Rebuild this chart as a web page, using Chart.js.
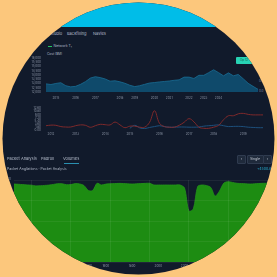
<!DOCTYPE html>
<html>
<head>
<meta charset="utf-8">
<script src="https://cdn.jsdelivr.net/npm/chart.js@4.4.1/dist/chart.umd.min.js"></script>
<style>
  html, body { margin: 0; padding: 0; }
  body { width: 277px; height: 277px; background: #fcc77c; overflow: hidden; position: relative; font-family: Inter, "Noto Sans", sans-serif; }
  #disc { position: absolute; left: 0; top: 0; width: 277px; height: 277px; background: #111a2b; clip-path: circle(136px at 138.5px 138.5px); }
  #band { position: absolute; left: 0; top: 0; width: 277px; height: 27px; background: #00bde8; }
  .t { position: absolute; font-size: 4px; color: #b4bccb; white-space: nowrap; line-height: 1; }
  .btn { position: absolute; background: #1f2a3b; border: 0.5px solid #2f3b4f; border-radius: 1px; font-size: 3.5px; color: #c3c9d3; text-align: center; line-height: 6.5px; height: 6.5px; }
  canvas { position: absolute; }
</style>
</head>
<body>
<div id="disc">
  <div id="band"></div>

  <div class="t" style="left:50px;top:32px;">Studio</div>
  <div class="t" style="left:67px;top:32px;">Backfilling</div>
  <div class="t" style="left:93px;top:32px;">Navies</div>

  <div style="position:absolute;left:48px;top:45.5px;width:4px;height:1px;background:#22c55e;"></div>
  <div class="t" style="left:53.5px;top:44.5px;font-size:3.5px;">Network T₁</div>
  <div class="t" style="left:47px;top:53px;font-size:3.2px;">Cost ($M)</div>

  <div style="position:absolute;left:236px;top:57px;width:30px;height:7px;background:#27d3b4;border-radius:1px;"></div>
  <div class="t" style="left:240px;top:59px;font-size:3px;color:#0e5a4c;">Op 12</div>
  <div class="t" style="left:259px;top:79.5px;font-size:3px;color:#8c95a6;">0.5</div>
  <div class="t" style="left:259px;top:89.5px;font-size:3px;color:#8c95a6;">0.0</div>

  <canvas id="costChart" width="236" height="52" style="left:28px;top:51px;"></canvas>
  <canvas id="rateChart" width="240" height="36" style="left:28px;top:102px;"></canvas>

  <div class="t" style="left:7px;top:156.5px;">Packet Analysis</div>
  <div class="t" style="left:41px;top:156.5px;">Padroll</div>
  <div class="t" style="left:63px;top:156.5px;">Volumes</div>
  <div style="position:absolute;left:63.5px;top:162.5px;width:15px;height:0.8px;background:#2a8fb0;"></div>

  <div class="btn" style="left:237px;top:155px;width:7px;">‹</div>
  <div class="btn" style="left:246.5px;top:155px;width:15px;">Single</div>
  <div class="btn" style="left:263px;top:155px;width:7px;">›</div>

  <div class="t" style="left:7px;top:167.5px;font-size:3.5px;">Packet Angliations · Packet Analysis</div>
  <div class="t" style="left:257px;top:167.5px;font-size:3.5px;color:#2ab0d0;">+4500.8</div>
  <div class="t" style="left:6px;top:178px;font-size:3px;color:#8c95a6;">100</div>

  <canvas id="volChart" width="277" height="96" style="left:0px;top:178px;"></canvas>
</div>

<script>
    // top panel: cost area
    const costTickIdx = [2, 6, 10, 15, 18, 22, 25, 29, 32, 35];
    const costTickText = ['2015', '2016', '2017', '2018', '2019', '2020', '2021', '2022', '2023', '2024'];
    const costValues = [12950, 12875, 13000, 13085, 12737, 12600, 12663, 12895, 13210, 13630,
        13790, 13685, 13525, 13265, 13315, 13190, 13020, 12790, 12630, 12737,
        12895, 13050, 13105, 13180, 13230, 13285, 13370, 13420, 13740, 13740,
        13580, 13950, 13950, 14265, 14600, 14265, 13895, 14240, 13895, 14050,
        13550, 13020, 12660, 12315];

    // middle panel: two rate lines
    const rateTickIdx = [1, 6, 12, 17, 23, 29, 34, 40];
    const rateTickText = ['2012', '2013', '2014', '2015', '2016', '2017', '2018', '2019'];
    const rateRed = [2.5, 2.85, 2.75, 2.0, 1.75, 1.75, 2.5, 3.0, 2.75, 1.6,
        2.5, 3.35, 3.1, 3.0, 4.65, 3.0, 1.35, 2.25, 2.25, 1.65,
        1.65, 4.5, 11.25, 4.0, 2.0, 1.65, 1.65, 2.75, 4.5, 6.65,
        4.75, 1.65, 1.0, 1.0, 1.65, 2.75, 6.0, 8.35, 8.35, 9.5,
        9.75, 9.15, 8.85, 8.85, 8.85];
    const rateBlue = [null, null, null, null, null, null, null, null, null, null,
        null, null, null, null, null, null, null, 1.0, 2.75, 1.25,
        0.85, 1.5, 2.0, 2.5, 2.0, 1.65, 1.65, 1.75, 1.75, 1.65,
        1.65, 1.75, 2.25, 2.5, 2.75, 3.0, 2.5, 2.0, 2.1, 2.15,
        2.0, 1.65, 1.5, 1.35, 1.35];

    // bottom panel: volumes
    const volTickIdx = [4, 9, 13, 17, 21, 27, 33, 39, 44, 49, 54];
    const volTickText = ['0800', '1000', '1200', '1400', '1600', '1800', '2000', '2200', '0000', '0200', '0400'];
    const volValues = [95.1, 94.8, 94.4, 94.0, 93.7, 92.8, 93.0, 93.4, 93.8, 94.6,
        95.5, 95.4, 94.3, 94.4, 95.6, 95.2, 93.3, 87.2, 87.3, 96.0,
        93.9, 95.0, 95.4, 95.6, 95.9, 95.7, 95.4, 95.1, 95.4, 95.6,
        95.9, 96.0, 93.9, 93.9, 93.9, 93.9, 93.9, 93.9, 93.9, 90.2,
        62.2, 64.6, 92.1, 93.9, 93.2, 90.9, 80.5, 86.6, 96.3, 97.9,
        97.0, 96.0, 95.7, 95.4, 95.1, 95.4, 95.7, 96.0, 96.0, 96.0];

    function montarRotulos(n, idx, texto) {
        const saida = new Array(n).fill('');
        idx.forEach((k, j) => { saida[k] = texto[j]; });
        return saida;
    }

    Chart.defaults.font.family = 'Inter';
    Chart.defaults.color = '#8c95a6';
    Chart.defaults.animation = false;

    const semLegenda = { legend: { display: false }, tooltip: { enabled: false } };

    new Chart(document.getElementById('costChart'), {
        type: 'line',
        data: {
            labels: montarRotulos(costValues.length, costTickIdx, costTickText),
            datasets: [{
                data: costValues,
                fill: 'start',
                backgroundColor: '#0f4a6b',
                borderColor: '#1b6d94',
                borderWidth: 0.8,
                pointRadius: 0,
                tension: 0
            }]
        },
        options: {
            responsive: false,
            layout: { padding: { top: 3, right: 6, left: 0, bottom: 0 } },
            plugins: semLegenda,
            scales: {
                x: {
                    grid: { display: false, drawTicks: false },
                    border: { display: false },
                    ticks: { font: { size: 3 }, padding: 4.5, autoSkip: false, maxRotation: 0 },
                    afterFit: s => { s.height = 11; }
                },
                y: {
                    min: 12000, max: 16000,
                    grid: { display: false, drawTicks: false },
                    border: { display: false },
                    ticks: { stepSize: 500, font: { size: 3 }, padding: 5, autoSkip: false,
                        callback: v => v.toLocaleString('en-US') },
                    afterFit: s => { s.width = 18; }
                }
            }
        }
    });

    new Chart(document.getElementById('rateChart'), {
        type: 'line',
        data: {
            labels: montarRotulos(rateRed.length, rateTickIdx, rateTickText),
            datasets: [
                { data: rateRed, borderColor: '#8a2b2b', borderWidth: 0.9, pointRadius: 0, tension: 0.4, fill: false },
                { data: rateBlue, borderColor: '#1f5684', borderWidth: 0.9, pointRadius: 0, tension: 0.4, fill: false }
            ]
        },
        options: {
            responsive: false,
            layout: { padding: { top: 3, right: 5, left: 0, bottom: 0 } },
            plugins: semLegenda,
            scales: {
                x: {
                    grid: { display: false, drawTicks: false },
                    border: { display: false },
                    ticks: { font: { size: 3 }, padding: 2, autoSkip: false, maxRotation: 0 },
                    afterFit: s => { s.height = 8; }
                },
                y: {
                    min: 0, max: 12.6,
                    grid: { display: false, drawTicks: false },
                    border: { display: false },
                    ticks: { stepSize: 1.8, font: { size: 3, lineHeight: 1 }, padding: 5, autoSkip: false,
                        callback: v => v.toFixed(2) },
                    afterFit: s => { s.width = 18; }
                }
            }
        }
    });

    new Chart(document.getElementById('volChart'), {
        type: 'line',
        data: {
            labels: montarRotulos(volValues.length, volTickIdx, volTickText),
            datasets: [{
                data: volValues,
                fill: 'start',
                backgroundColor: '#1d8c12',
                borderColor: '#24961a',
                borderWidth: 0.8,
                pointRadius: 0,
                tension: 0.3
            }]
        },
        options: {
            responsive: false,
            layout: { padding: { top: 2, right: 5, left: 14, bottom: 0 } },
            plugins: semLegenda,
            scales: {
                x: {
                    grid: {
                        z: 1, drawTicks: false,
                        color: c => (c.index % 9 === 4 ? 'rgba(255,255,255,0.07)' : 'rgba(0,0,0,0)')
                    },
                    border: { display: false },
                    ticks: { font: { size: 3 }, padding: 2.5, autoSkip: false, maxRotation: 0 },
                    afterFit: s => { s.height = 12; }
                },
                y: {
                    min: 0, max: 100,
                    grid: { z: 1, drawTicks: false, color: 'rgba(255,255,255,0.06)' },
                    border: { display: false },
                    ticks: { display: false, stepSize: 25 },
                    afterFit: s => { s.width = 0; }
                }
            }
        }
    });
</script>
</body>
</html>
